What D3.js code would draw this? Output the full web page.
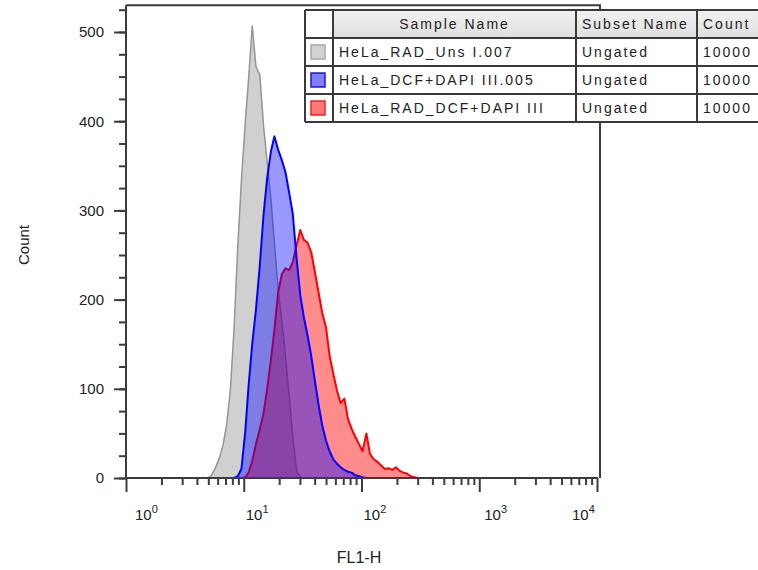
<!DOCTYPE html>
<html>
<head>
<meta charset="utf-8">
<script src="https://cdn.jsdelivr.net/npm/d3@7"></script>
<style>
body { margin: 0; background: #fff; }
svg text { font-family: "Liberation Sans", Arial, sans-serif; fill: #222; }
</style>
</head>
<body>
<div id="chart"></div>
<script>
// FL1-H channel values (log-spaced bins) and counts
const fl1 = [5.00, 5.37, 5.77, 6.20, 6.67, 7.16, 7.70, 8.27, 8.89, 9.55,
  10.3, 11.0, 11.8, 12.7, 13.7, 14.7, 15.8, 17.0, 18.2, 19.6,
  21.1, 22.6, 24.3, 26.1, 28.1, 30.2, 32.4, 34.8, 37.4, 40.2,
  43.2, 46.4, 49.9, 53.6, 57.6, 61.9, 66.5, 71.5, 76.8, 82.5,
  88.7, 95.3, 102, 110, 118, 127, 137, 147, 158, 170,
  182, 196, 211, 226, 243, 261, 281, 302];

const unsCounts = [0, 4, 12, 22, 37, 60, 99, 167, 259, 333,
  399, 448, 507, 461, 452, 396, 354, 313, 264, 211,
  175, 137, 92, 47, 8, 1, 0, 0, 0, 0,
  0, 0, 0, 0, 0, 0, 0, 0, 0, 0,
  0, 0, 0, 0, 0, 0, 0, 0, 0, 0,
  0, 0, 0, 0, 0, 0, 0, 0];

const dcfCounts = [0, 0, 0, 0, 0, 0, 0, 0, 2, 10,
  52, 104, 150, 189, 239, 294, 336, 366, 383, 368,
  356, 343, 320, 296, 246, 205, 180, 160, 137, 109,
  82, 59, 42, 30, 21, 16, 12, 9, 7, 6,
  3, 2, 1, 0, 0, 0, 0, 0, 0, 0,
  0, 0, 0, 0, 0, 0, 0, 0];

const radDcfCounts = [0, 0, 0, 0, 0, 0, 0, 0, 0, 0,
  1, 6, 19, 38, 55, 72, 100, 132, 166, 208,
  229, 235, 233, 242, 261, 278, 267, 264, 253, 231,
  208, 185, 169, 137, 117, 98, 84, 89, 66, 55,
  46, 38, 30, 50, 27, 21, 18, 14, 10, 11,
  9, 12, 8, 6, 5, 2, 1, 0];

const sampleNames = ["HeLa_RAD_Uns I.007", "HeLa_DCF+DAPI III.005", "HeLa_RAD_DCF+DAPI III"];
const subsetNames = ["Ungated", "Ungated", "Ungated"];
const eventCounts = [10000, 10000, 10000];
const yTicks = [0, 100, 200, 300, 400, 500];
const xDecades = [1, 10, 100, 1000, 10000];

const w = 758, h = 570;

const svg = d3.select("#chart").append("svg")
    .attr("width", w)
    .attr("height", h);

const x = d3.scaleLog().domain([1, 10000]).range([126, 597]);
const y = d3.scaleLinear().domain([0, 500]).range([478, 32]);

// plot frame (top + right)
svg.append("path")
    .attr("d", `M${x(1)},${y(530)}H${x(10000) + 3}V${y(0)}`)
    .attr("fill", "none")
    .attr("stroke", "#3c3c3c")
    .attr("stroke-width", 2);

// histograms
const series = [
  { counts: unsCounts, fill: "#d0d0d0", stroke: "#959595", sw: 1.5 },
  { counts: radDcfCounts, fill: "rgba(255,0,0,0.45)", stroke: "#ff0000", sw: 2 },
  { counts: dcfCounts, fill: "rgba(0,0,255,0.4)", stroke: "#0000ff", sw: 2 }
];

const area = d3.area()
    .x(d => x(d[0]))
    .y0(y(0))
    .y1(d => y(d[1]));

const line = d3.line()
    .x(d => x(d[0]))
    .y(d => y(d[1]));

series.forEach(s => {
  let pts = fl1.map((v, i) => [v, s.counts[i]]);
  let first = s.counts.findIndex(c => c > 0);
  let last = s.counts.length - 1 - [...s.counts].reverse().findIndex(c => c > 0);
  pts = pts.slice(Math.max(0, first - 1), Math.min(pts.length, last + 2));
  svg.append("path").datum(pts)
      .attr("d", area)
      .attr("fill", s.fill);
  svg.append("path").datum(pts)
      .attr("d", line)
      .attr("fill", "none")
      .attr("stroke", s.stroke)
      .attr("stroke-width", s.sw)
      .attr("stroke-linejoin", "round");
});

// y axis
const yMinor = d3.axisLeft(y).tickValues(d3.range(0, 526, 25)).tickSize(7).tickFormat("");
const yAxis = d3.axisLeft(y).tickValues(yTicks).tickSize(12).tickPadding(10);

svg.append("g").attr("transform", `translate(${x(1)},0)`).call(yMinor)
    .call(g => g.select(".domain").remove());
svg.append("g").attr("transform", `translate(${x(1)},0)`).call(yAxis)
    .call(g => g.select(".domain").remove())
    .call(g => g.selectAll("text").style("font-size", "15px").attr("fill", "#222"));

svg.selectAll(".tick line").attr("stroke", "#3c3c3c").attr("stroke-width", 2);

svg.append("line")
    .attr("x1", x(1)).attr("x2", x(1))
    .attr("y1", y(530)).attr("y2", y(0) + 1)
    .attr("stroke", "#3c3c3c").attr("stroke-width", 2);

// x axis
const xMinorVals = [];
xDecades.slice(0, 4).forEach(d => d3.range(2, 10).forEach(k => xMinorVals.push(d * k)));

const xMinor = d3.axisBottom(x).tickValues(xMinorVals).tickSize(7).tickFormat("");
const xAxis = d3.axisBottom(x).tickValues(xDecades).tickSize(14).tickFormat("");

svg.append("g").attr("transform", `translate(0,${y(0)})`).call(xMinor)
    .call(g => g.select(".domain").remove());
svg.append("g").attr("transform", `translate(0,${y(0)})`).call(xAxis)
    .call(g => g.select(".domain").remove());

svg.selectAll(".tick line").attr("stroke", "#3c3c3c").attr("stroke-width", 2);

svg.append("line")
    .attr("x1", x(1) - 1).attr("x2", x(10000) + 1)
    .attr("y1", y(0)).attr("y2", y(0))
    .attr("stroke", "#3c3c3c").attr("stroke-width", 2);

const labelShift = [9, 2, 2, 5, -25];
xDecades.forEach((d, i) => {
  const t = svg.append("text")
      .attr("x", x(d) + labelShift[i])
      .attr("y", 520)
      .style("font-size", "15px");
  t.append("tspan").text("10");
  t.append("tspan").attr("dy", -7).style("font-size", "11px").text(i);
});

// axis titles
svg.append("text")
    .attr("x", 359).attr("y", 563)
    .attr("text-anchor", "middle")
    .style("font-size", "16px")
    .text("FL1-H");

svg.append("text")
    .attr("transform", "translate(29,245) rotate(-90)")
    .attr("text-anchor", "middle")
    .style("font-size", "15px")
    .text("Count");

// legend table
const colX = [305, 333, 576, 697, 800];
const rowY = [10, 38, 66, 94, 122];
const swatchFill = ["#d2d2d2", "#7f7fff", "#ff7777"];
const swatchStroke = ["#a8a8a8", "#1a1ad0", "#e02a2a"];

const defs = svg.append("defs");
const grad = defs.append("linearGradient").attr("id", "hdr").attr("x1", 0).attr("x2", 0).attr("y1", 0).attr("y2", 1);
grad.append("stop").attr("offset", 0).attr("stop-color", "#f2f2f2");
grad.append("stop").attr("offset", 1).attr("stop-color", "#dedede");

const tbl = svg.append("g");
tbl.append("rect")
    .attr("x", colX[0]).attr("y", rowY[0])
    .attr("width", colX[4] - colX[0]).attr("height", rowY[4] - rowY[0])
    .attr("fill", "#fff");
tbl.append("rect")
    .attr("x", colX[1]).attr("y", rowY[0])
    .attr("width", colX[4] - colX[1]).attr("height", rowY[1] - rowY[0])
    .attr("fill", "url(#hdr)");

rowY.forEach(ry => {
  tbl.append("line").attr("x1", colX[0]).attr("x2", colX[4])
      .attr("y1", ry).attr("y2", ry)
      .attr("stroke", "#3a3a3a").attr("stroke-width", 2);
});
colX.forEach(cx => {
  tbl.append("line").attr("x1", cx).attr("x2", cx)
      .attr("y1", rowY[0]).attr("y2", rowY[4])
      .attr("stroke", "#3a3a3a").attr("stroke-width", 2);
});

const txt = (tx, ty, s, anchor) => tbl.append("text")
    .attr("x", tx).attr("y", ty)
    .attr("text-anchor", anchor || "start")
    .style("font-size", "14px")
    .style("letter-spacing", "2px")
    .attr("fill", "#111")
    .text(s);

txt((colX[1] + colX[2]) / 2, rowY[0] + 19, "Sample Name", "middle");
txt(colX[2] + 6, rowY[0] + 19, "Subset Name");
txt(colX[3] + 6, rowY[0] + 19, "Count");

sampleNames.forEach((name, i) => {
  const ry = rowY[i + 1];
  tbl.append("rect")
      .attr("x", colX[0] + 6).attr("y", ry + 7)
      .attr("width", 14).attr("height", 14)
      .attr("fill", swatchFill[i])
      .attr("stroke", swatchStroke[i])
      .attr("stroke-width", 1.5);
  txt(colX[1] + 6, ry + 19, name);
  txt(colX[2] + 6, ry + 19, subsetNames[i]);
  txt(colX[3] + 6, ry + 19, eventCounts[i]);
});
</script>
</body>
</html>
